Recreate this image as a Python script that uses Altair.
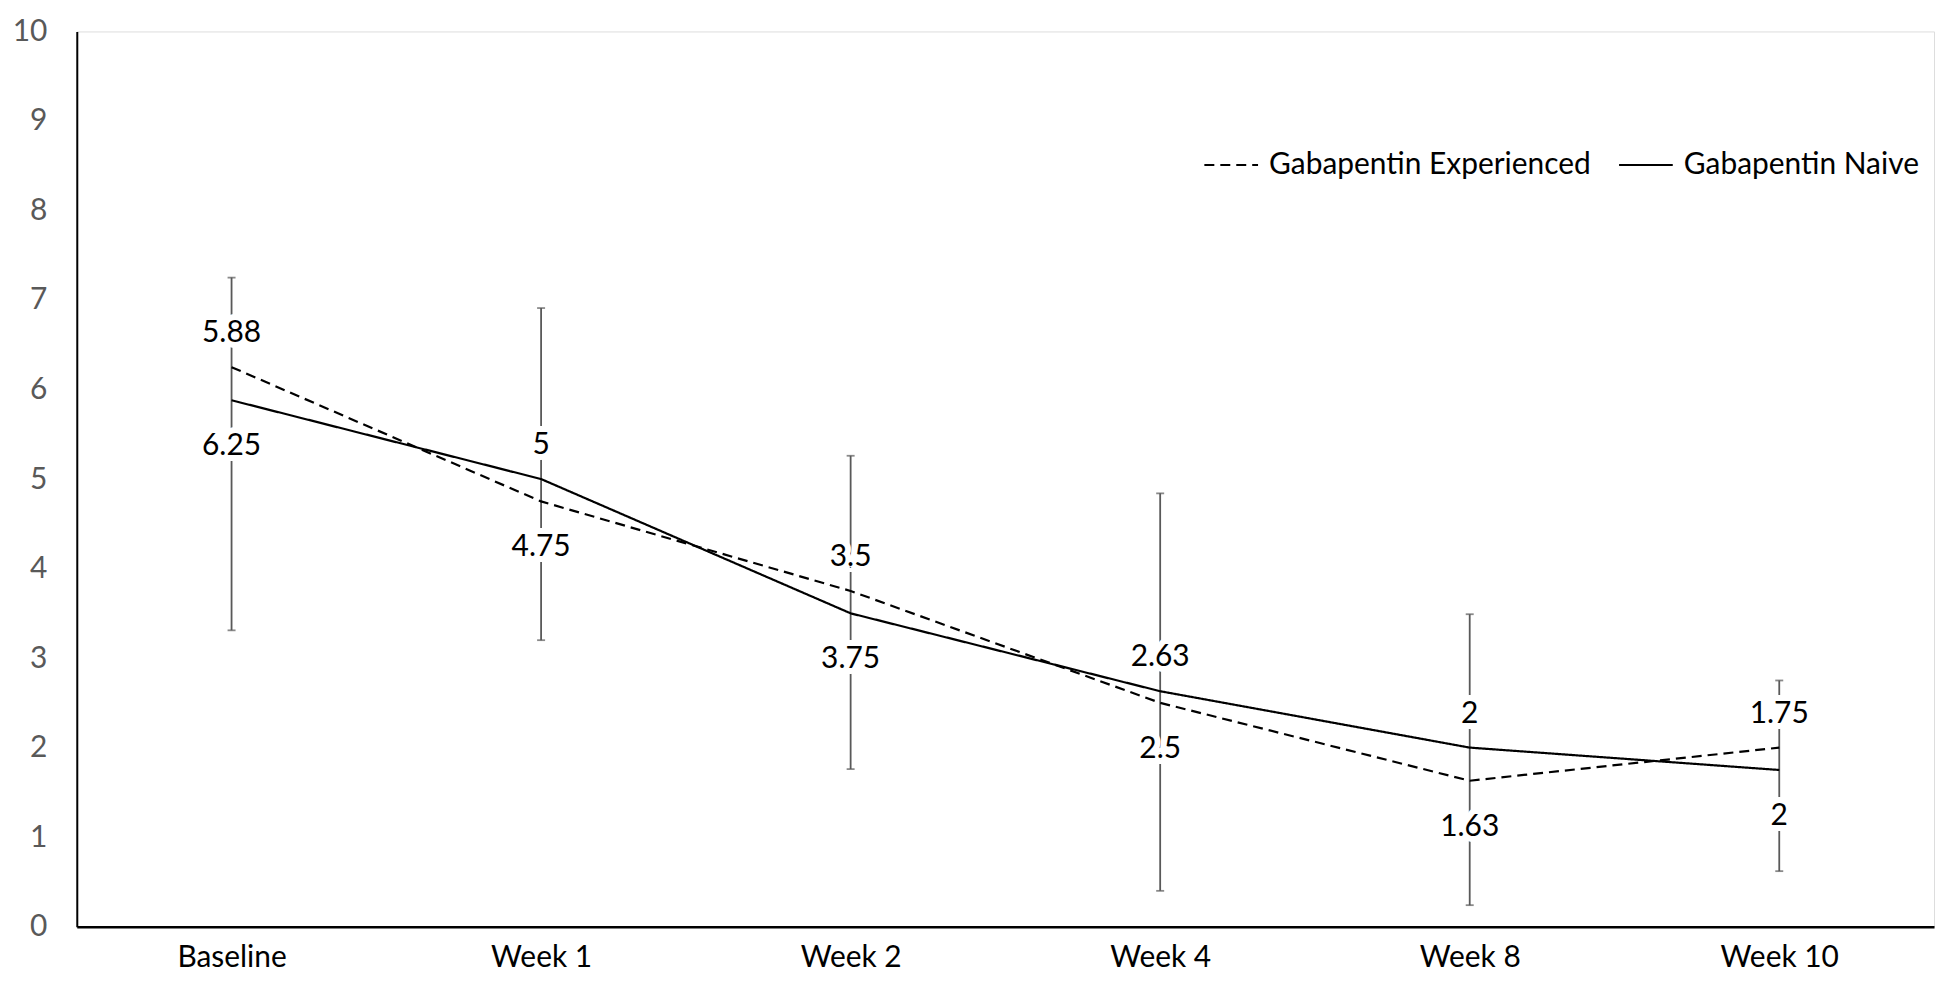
import altair as alt
import pandas as pd

categories = ["Baseline", "Week 1", "Week 2", "Week 4", "Week 8", "Week 10"]
naive = [5.88, 5.0, 3.5, 2.63, 2.0, 1.75]
experienced = [6.25, 4.75, 3.75, 2.5, 1.63, 2.0]
naive_labels = ["5.88", "5", "3.5", "2.63", "2", "1.75"]
exp_labels = ["6.25", "4.75", "3.75", "2.5", "1.63", "2"]
err_high = [7.25, 6.91, 5.26, 4.84, 3.49, 2.75]
err_low = [3.31, 3.20, 1.76, 0.40, 0.24, 0.62]

series_names = ["Gabapentin Experienced", "Gabapentin Naive"]

rows = []
for c, v in zip(categories, experienced):
    rows.append({"cat": c, "value": v, "series": series_names[0]})
for c, v in zip(categories, naive):
    rows.append({"cat": c, "value": v, "series": series_names[1]})
lines_df = pd.DataFrame(rows)

cat_df = pd.DataFrame({
    "cat": categories,
    "hi": [max(a, b) for a, b in zip(naive, experienced)],
    "lo": [min(a, b) for a, b in zip(naive, experienced)],
    "top_label": naive_labels,
    "bottom_label": exp_labels,
    "err_high": err_high,
    "err_low": err_low,
})

FONT = "Lato"
FS = 30

x_enc = alt.X("cat:N", sort=categories, title=None,
              scale=alt.Scale(type="point", padding=0.5),
              axis=alt.Axis(labelAngle=0, labelFontSize=FS, labelFont=FONT,
                            labelColor="#000000", domainColor="#000000",
                            domainWidth=2.5, ticks=False, labelPadding=16,
                            grid=False))
y_scale = alt.Scale(domain=[0, 10], nice=False, zero=True)
y_axis = alt.Axis(values=list(range(0, 11)), format="d", labelFontSize=FS,
                  labelFont=FONT, labelColor="#595959", domainColor="#000000",
                  domainWidth=2, ticks=False, labelPadding=30, grid=False,
                  title=None)

base = alt.Chart(cat_df)

err_rule = base.mark_rule(color="#595959", strokeWidth=1.8).encode(
    x=x_enc,
    y=alt.Y("err_low:Q", scale=y_scale, axis=y_axis),
    y2="err_high:Q",
)
cap_hi = base.mark_tick(color="#595959", thickness=1.8, size=8).encode(
    x=alt.X("cat:N", sort=categories),
    y=alt.Y("err_high:Q", scale=y_scale),
)
cap_lo = base.mark_tick(color="#595959", thickness=1.8, size=8).encode(
    x=alt.X("cat:N", sort=categories),
    y=alt.Y("err_low:Q", scale=y_scale),
)

lines = alt.Chart(lines_df).mark_line(color="#000000", strokeWidth=2.2).encode(
    x=alt.X("cat:N", sort=categories),
    y=alt.Y("value:Q", scale=y_scale),
    strokeDash=alt.StrokeDash(
        "series:N",
        scale=alt.Scale(domain=series_names, range=[[10, 6], [1, 0]]),
        legend=alt.Legend(
            title=None, orient="none", direction="horizontal",
            legendX=1130, legendY=106,
            symbolType="stroke", symbolSize=2900, symbolStrokeWidth=2,
            symbolStrokeColor="#000000",
            labelFontSize=FS, labelFont=FONT, labelColor="#000000",
            labelLimit=600, labelOffset=10, columnPadding=24,
        ),
    ),
    detail="series:N",
)

def label_layer(field, ypos, dy, halo):
    kw = dict(fontSize=FS, font=FONT, dy=dy, align="center", baseline="middle")
    if halo:
        mark = base.mark_text(color="#ffffff", stroke="#ffffff", strokeWidth=12, **kw)
    else:
        mark = base.mark_text(color="#000000", **kw)
    return mark.encode(
        x=alt.X("cat:N", sort=categories),
        y=alt.Y(f"{ypos}:Q", scale=y_scale),
        text=f"{field}:N",
    )

chart = alt.layer(
    err_rule, cap_hi, cap_lo, lines,
    label_layer("top_label", "hi", -34, True),
    label_layer("bottom_label", "lo", 46, True),
    label_layer("top_label", "hi", -34, False),
    label_layer("bottom_label", "lo", 46, False),
).properties(
    width=1863, height=898,
    autosize=alt.AutoSizeParams(type="none"),
    padding={"left": 69, "top": 22, "right": 8, "bottom": 50},
).configure_view(stroke=None).configure(background="#ffffff")

chart.save("out.html", embed_options={"renderer": "svg", "actions": False})
